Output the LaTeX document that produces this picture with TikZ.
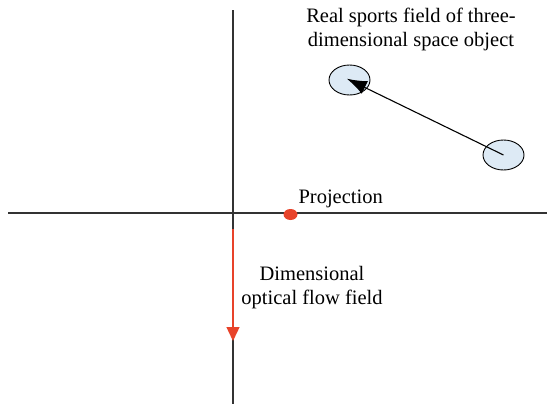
\documentclass[tikz,border=0pt]{standalone}
\usepackage{fontspec}
\setmainfont{Liberation Serif}
\usepackage{tikz}
\usetikzlibrary{arrows.meta,shapes.geometric}
\definecolor{flowred}{HTML}{E8432A}
\definecolor{objblue}{HTML}{DDEAF5}
\definecolor{axisgray}{HTML}{333333}

\begin{document}
\begin{tikzpicture}[
      x=1pt, y=-1pt,
      axis/.style={draw=axisgray, line width=1.1pt},
      object/.style={ellipse, draw=black, fill=objblue, line width=0.9pt,
                     minimum width=41pt, minimum height=30pt, inner sep=0pt},
      label/.style={align=center, font=\fontsize{20.5}{24}\selectfont},
      arrow/.style={-{Latex[length=20pt, width=14pt]}, line width=1.1pt},
      flow/.style={-{Triangle[length=14pt, width=13pt]}, draw=flowred, fill=flowred, line width=1.4pt},
      dot/.style={ellipse, fill=flowred, minimum width=14pt, minimum height=11pt, inner sep=0pt}
    ]
    \useasboundingbox (0,0) rectangle (547,407);
    \coordinate (ytop) at (233,10);
    \coordinate (ybot) at (233,404);
    \coordinate (xleft) at (8,213);
    \coordinate (xright) at (547,213);
    \draw[axis] (ytop) -- (ybot);
    \draw[axis] (xleft) -- (xright);
    % object moving in space
    \node[object] (objA) at (349.5,80) {};
    \node[object] (objB) at (503.5,155) {};
    \draw[arrow, shorten >=-3pt] (objB.center) -- (objA.center);
    \node[label] (real) at (411,29) {Real sports field of three-\\dimensional space object};
    % projection on the plane
    \node[dot] (proj) at (290.5,214.5) {};
    \node[label, anchor=west] (projtext) at (295,199) {Projection};
    \coordinate (flowstart) at (233,229);
    \coordinate (flowend) at (233,341);
    \draw[flow] (flowstart) -- (flowend);
    \node[label] (flowtext) at (312,288) {Dimensional\\optical flow field};
\end{tikzpicture}
\end{document}
